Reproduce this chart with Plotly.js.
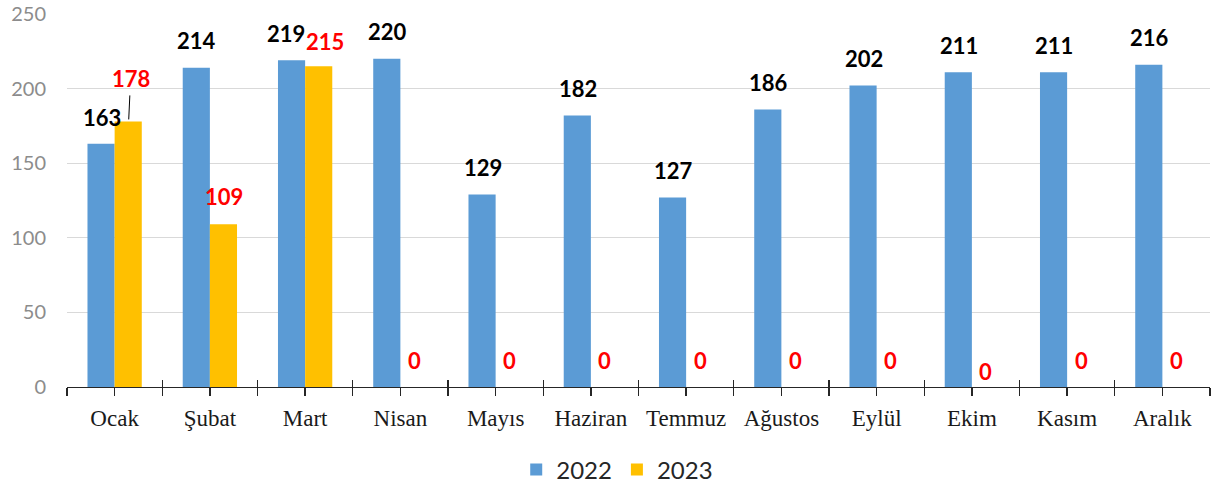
<!DOCTYPE html>
<html>
<head>
<meta charset="utf-8">
<script src="https://cdn.plot.ly/plotly-3.0.1.min.js"></script>
<style>html,body{margin:0;padding:0;background:#fff;}#chart{width:1215px;height:488px;}</style>
</head>
<body>
<div id="chart"></div>
<script>
var months = ["Ocak","Şubat","Mart","Nisan","Mayıs","Haziran","Temmuz","Ağustos","Eylül","Ekim","Kasım","Aralık"];
var values2022 = [163,214,219,220,129,182,127,186,202,211,211,216];
var values2023 = [178,109,215,0,0,0,0,0,0,0,0,0];
var seriesNames = ["2022","2023"];

var blue = "#5B9BD5", yellow = "#FFC000";

var traces = [
  {type:"bar", name:seriesNames[0], x:months, y:values2022, marker:{color:blue}, hoverinfo:"skip"},
  {type:"bar", name:seriesNames[1], x:months, y:values2023, marker:{color:yellow}, hoverinfo:"skip"},
  {type:"scatter", mode:"markers", x:months, y:months.map(function(){return null;}), xaxis:"x2", showlegend:false, hoverinfo:"skip"},
  {type:"scatter", mode:"markers", x:months, y:months.map(function(){return null;}), xaxis:"x3", showlegend:false, hoverinfo:"skip"}
];

var labelFont = {family:"Lato, 'Open Sans', sans-serif", size:22};
var annotations = [];
months.forEach(function(m,i){
  annotations.push({
    x:m, y:values2022[i], xref:"x", yref:"y", xshift:(i===2?-19:-13), yshift:i===0?26:27,
    text:"<b>"+values2022[i]+"</b>", showarrow:false, yanchor:"middle",
    font:Object.assign({color:"#000000"}, labelFont)
  });
  var a = {
    x:m, y:values2023[i], xref:"x", yref:"y", xshift:14, yshift:values2023[i]===0?(m==="Ekim"?16:27):28,
    text:"<b>"+values2023[i]+"</b>", showarrow:false, yanchor:"middle",
    font:Object.assign({color:"#FF0000"}, labelFont)
  };
  if (i===0) {
    a.showarrow = true; a.yshift = 0; a.ax = 2; a.ay = -43; a.arrowhead = 0;
    a.arrowwidth = 1; a.arrowcolor = "#000000"; a.standoff = 2; a.startstandoff = 2;
  }
  if (i===2) { a.xshift = 20; a.yshift = 25; }
  annotations.push(a);
});

var layout = {
  width:1215, height:488,
  margin:{l:67, r:5, t:14, b:101, autoexpand:false},
  paper_bgcolor:"#ffffff", plot_bgcolor:"#ffffff",
  barmode:"group", bargap:0.43, bargroupgap:0,
  showlegend:true,
  legend:{orientation:"h", x:0.508, xanchor:"center", xref:"container", yref:"container", y:0.037, yanchor:"middle",
          font:{family:"Lato, 'Open Sans', sans-serif", size:24, color:"#262626"}, traceorder:"normal"},
  xaxis:{type:"category", categoryarray:months, range:[-0.5,11.5], tickson:"boundaries",
         ticks:"outside", ticklen:8, tickcolor:"#262626", tickwidth:1.3, ticklabelstandoff:10,
         showline:true, linecolor:"#262626", linewidth:1.3, showgrid:false, zeroline:false, automargin:false,
         tickfont:{family:"'Liberation Serif', 'DejaVu Serif', serif", size:23, color:"#1a1a1a"}},
  xaxis2:{type:"category", categoryarray:months, range:[-0.5,11.5], overlaying:"x", anchor:"y",
          ticks:"outside", ticklen:8, tickcolor:"#262626", tickwidth:1.3, showticklabels:false,
          showline:false, showgrid:false, zeroline:false},
  xaxis3:{type:"category", categoryarray:months, range:[-0.5,11.5], overlaying:"x", anchor:"y",
          tickson:"boundaries", ticks:"inside", ticklen:7, tickcolor:"#262626", tickwidth:1.3, showticklabels:false,
          showline:false, showgrid:false, zeroline:false},
  yaxis:{range:[0,250], dtick:50, tick0:0, showgrid:true, gridcolor:"#d9d9d9", gridwidth:1.3,
         zeroline:false, showline:false, ticks:"", ticklabelstandoff:20, automargin:false,
         tickfont:{family:"Lato, 'Open Sans', sans-serif", size:20, color:"#8c8c8c"}},
  annotations:annotations
};

Plotly.newPlot("chart", traces, layout, {displayModeBar:false, staticPlot:true});
</script>
</body>
</html>
